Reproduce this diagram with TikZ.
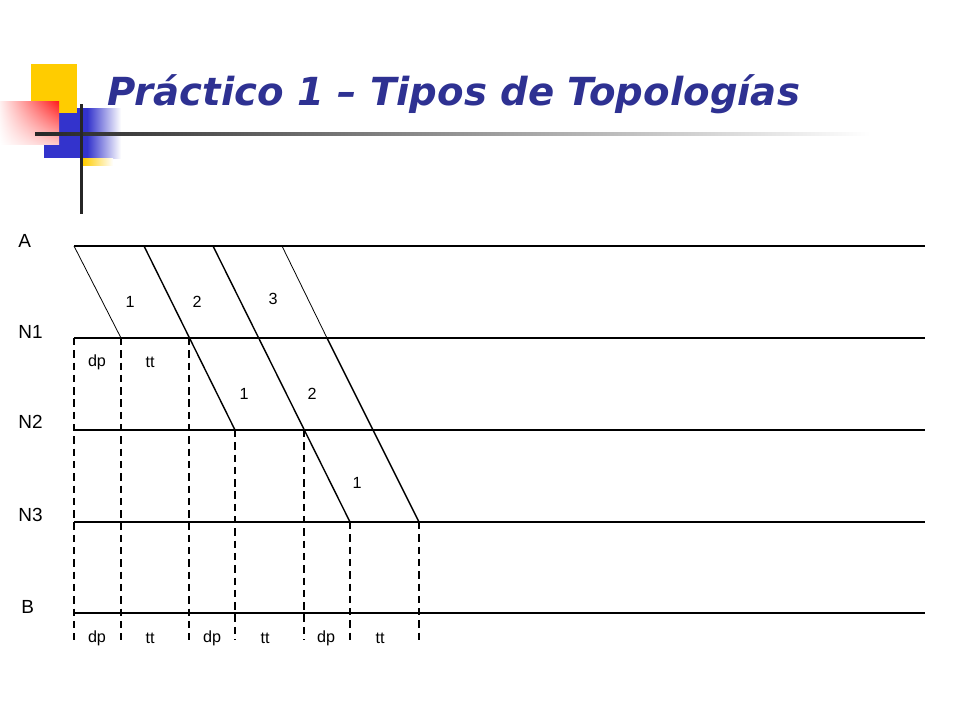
\documentclass[tikz,border=0pt]{standalone}
\usepackage{fontspec}
\setmainfont{Liberation Sans}
\newfontfamily\titlefont{DejaVu Sans}
\usetikzlibrary{calc,shadings}
\definecolor{logoyellow}{RGB}{255,204,0}
\definecolor{logoblue}{RGB}{51,51,204}
\definecolor{titleblue}{RGB}{46,49,146}
\tikzset{
	level/.style={line width=0.9pt},
	timemark/.style={line width=0.6pt, dash pattern=on 4.2pt off 2.8pt},
	frame/.style={line width=0.8pt},
	framethin/.style={line width=0.45pt},
	lbl/.style={font=\fontsize{10.8}{12}\selectfont, anchor=base west, inner sep=0pt},
	num/.style={font=\fontsize{9.2}{10}\selectfont, inner sep=0pt}
}
\begin{document}
\begin{tikzpicture}[x=0.02cm, y=-0.02cm]
			%%%%% START %%%%%
			\useasboundingbox (0, 0) rectangle (960, 720);
			
			% logo
			\fill[logoblue] (44, 108) rectangle (87, 158);
			\shade[left color=logoblue, right color=white] (87, 108) rectangle (121, 158);
			\shade[left color=logoyellow, right color=white] (83, 158) rectangle (113, 165);
			\fill[logoyellow] (31, 64) rectangle (77, 113);
			\shade[upper right=red!90, upper left=red!6, lower right=red!22, lower left=white] (0, 101) rectangle (59, 144);
			\shade[left color=black!85, right color=white] (35, 132.5) rectangle (870, 135.5);
			\fill[black!85] (79.5, 104) rectangle (82.5, 214);
			
			\node[anchor=base west, inner sep=0pt, text=titleblue, font=\titlefont\fontsize{22}{26}\selectfont\bfseries\itshape] (title) at (107, 105) {Práctico 1 – Tipos de Topologías};
			
			% levels
			\node[lbl] (la) at (18, 247) {A};
			\node[lbl] (ln1) at (18, 338) {N1};
			\node[lbl] (ln2) at (18, 428) {N2};
			\node[lbl] (ln3) at (18, 521) {N3};
			\node[lbl] (lb) at (21, 613) {B};
			
			\draw[level] (74, 246) -- (925, 246);
			\draw[level] (74, 338) -- (925, 338);
			\draw[level] (74, 430) -- (925, 430);
			\draw[level] (74, 522) -- (925, 522);
			\draw[level] (74, 613) -- (925, 613);
			
			% frames
			\draw[framethin] (74, 246) -- (121, 338);
			\draw[frame] (144, 246) -- (235, 430);
			\draw[frame] (213, 246) -- (350, 522);
			\draw[framethin] (282, 246) -- (327, 338);
			\draw[frame] (327, 338) -- (419, 522);
			
			% time marks
			\draw[timemark] (74, 338) -- (74, 640);
			\draw[timemark] (121, 338) -- (121, 640);
			\draw[timemark, line width=0.8pt] (189, 338) -- (189, 640);
			\draw[timemark] (235, 430) -- (235, 640);
			\draw[timemark] (304, 430) -- (304, 640);
			\draw[timemark] (350, 522) -- (350, 640);
			\draw[timemark] (419, 522) -- (419, 640);
			
			\node[num] (f1a) at (130, 302) {1};
			\node[num] (f2a) at (197, 302) {2};
			\node[num] (f3a) at (273, 299) {3};
			\node[num] (f1b) at (244, 394) {1};
			\node[num] (f2b) at (312, 394) {2};
			\node[num] (f1c) at (357, 483) {1};
			
			\node[num] (dp1) at (97, 362) {dp};
			\node[num] (tt1) at (150, 362) {tt};
			
			\node[num] (dpb1) at (97, 638) {dp};
			\node[num] (ttb1) at (150, 638) {tt};
			\node[num] (dpb2) at (212, 638) {dp};
			\node[num] (ttb2) at (265, 638) {tt};
			\node[num] (dpb3) at (326, 638) {dp};
			\node[num] (ttb3) at (380, 638) {tt};
			
			%%%%% END %%%%%
\end{tikzpicture}
\end{document}
